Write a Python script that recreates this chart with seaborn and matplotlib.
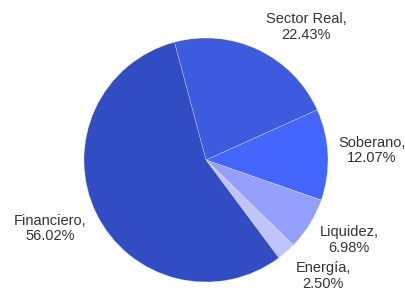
import matplotlib
matplotlib.use("Agg")
import matplotlib.pyplot as plt
import seaborn as sns
import numpy as np

categories = ["Sector Real", "Soberano", "Liquidez", "Energía", "Financiero"]
values = [22.43, 12.07, 6.98, 2.50, 56.02]
colors = ["#3C5BDF", "#4566FD", "#949FFE", "#BEC5FE", "#324DC3"]

# label placement (data coords relative to a unit-radius pie)
label_pos = [(0.82, 1.09), (1.36, 0.08), (1.172, -0.656), (0.959, -0.951), (-1.28, -0.56)]

sns.set_theme(style="white")
plt.rcParams["font.family"] = ["Liberation Sans", "DejaVu Sans"]

fig = plt.figure(figsize=(4.06, 2.90), dpi=100)
ax = fig.add_axes([0, 0, 1, 1])
wedges, _ = ax.pie(values, colors=colors, startangle=105, counterclock=False,
                   radius=1.0, wedgeprops=dict(edgecolor=(1, 1, 1, 0.6), linewidth=0.3))
for cat, v, (x, y) in zip(categories, values, label_pos):
    ax.text(x, y, f"{cat},\n{v:.2f}%", ha="center", va="center",
            fontsize=10.5, color="#333333", linespacing=1.1)
ax.set_xlim(-206 / 122, 200 / 122)
ax.set_ylim(-130 / 122, 160 / 122)
ax.set_aspect("auto")
ax.axis("off")
fig.savefig("out.png", dpi=100)
